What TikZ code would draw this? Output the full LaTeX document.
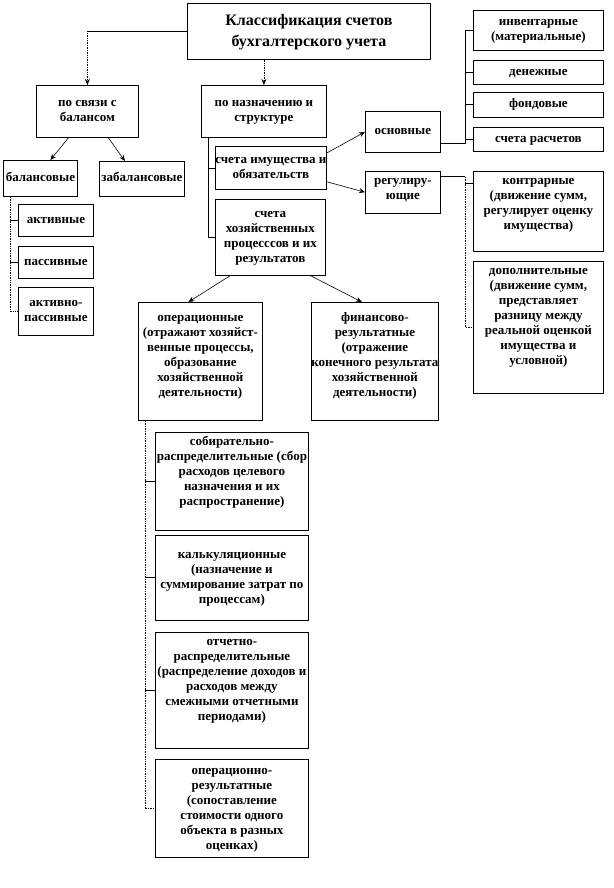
\documentclass[tikz,border=0pt]{standalone}
\usepackage{fontspec}
\setmainfont{Liberation Serif}
\usepackage{tikz}
\usetikzlibrary{arrows.meta, positioning}

% box text: [c] centred or [t] top, width, height, lines
\newcommand{\bx}[4][c]{\parbox[c][#3][#1]{#2}{\centering\vspace*{3pt}\makebox[0pt]{\begin{tabular}{@{}c@{}}#4\end{tabular}}\par\vspace*{3pt}}}

\begin{document}
\begin{tikzpicture}[
    x=1pt, y=-1pt,
    font=\bfseries\fontsize{13}{15}\selectfont,
    acct/.style={draw, line width=0.8pt, inner sep=0pt, fill=white},
    line/.style={line width=0.7pt},
    trunk/.style={line width=0.7pt, densely dotted},
    arrow/.style={-{Stealth[length=6pt, width=5pt]}, line width=0.6pt}
]
\useasboundingbox (0,0) rectangle (613,888);

% Title
\node[acct, anchor=north west, font=\bfseries\fontsize{16}{21}\selectfont] (title) at (187,3) {\bx{243pt}{56pt}{Классификация счетов\\бухгалтерского учета}};

% First level
\node[acct, anchor=north west] (svyaz) at (36,85) {\bx{102pt}{52pt}{по связи с\\балансом}};
\node[acct, anchor=north west] (naznach) at (201,85) {\bx{125pt}{52pt}{по назначению и\\структуре}};

% By relation to balance
\node[acct, anchor=north west] (balans) at (3,160) {\bx{74pt}{36pt}{балансовые}};
\node[acct, anchor=north west] (zabalans) at (99,161) {\bx{85pt}{35pt}{забалансовые}};
\node[acct, anchor=north west] (aktiv) at (18,204) {\bx{75pt}{32pt}{активные}};
\node[acct, below=9pt of aktiv] (passiv) {\bx{75pt}{32pt}{пассивные}};
\node[acct, below=8pt of passiv] (aktpass) {\bx{75pt}{48pt}{активно-\\пассивные}};

% By purpose and structure
\node[acct, anchor=north west] (imush) at (215,146) {\bx{111pt}{43pt}{счета имущества и\\обязательств}};
\node[acct, anchor=north west] (hozproc) at (215,199) {\bx{110pt}{76pt}{счета\\хозяйственных\\процесссов и их\\результатов}};

% Property accounts
\node[acct, anchor=north west] (osnov) at (365,111) {\bx{75pt}{41pt}{основные}};
\node[acct, below=18pt of osnov] (regul) {\bx[t]{75pt}{42pt}{регулиру-\\ющие}};

\node[acct, anchor=north west] (inv) at (473,10) {\bx{130pt}{40pt}{инвентарные\\(материальные)}};
\node[acct, below=9pt of inv] (den) {\bx{130pt}{24pt}{денежные}};
\node[acct, below=7pt of den] (fond) {\bx{130pt}{25pt}{фондовые}};
\node[acct, below=10pt of fond] (rasch) {\bx{130pt}{24pt}{счета расчетов}};

\node[acct, anchor=north west] (kontr) at (473,171) {\bx[t]{130pt}{80pt}{контрарные\\(движение сумм,\\регулирует оценку\\имущества)}};
\node[acct, below=9pt of kontr] (dop) {\bx[t]{130pt}{132pt}{дополнительные\\(движение сумм,\\представляет\\разницу между\\реальной оценкой\\имущества и\\условной)}};

% Process accounts
\node[acct, anchor=north west] (oper) at (138,302) {\bx[t]{124pt}{118pt}{\rule{0pt}{16pt}операционные\\(отражают хозяйст-\\венные процессы,\\образование\\хозяйственной\\деятельности)}};
\node[acct, anchor=north west] (fin) at (311,302) {\bx[t]{127pt}{118pt}{\rule{0pt}{16pt}финансово-\\результатные\\(отражение\\конечного результата\\хозяйственной\\деятельности)}};

\node[acct, anchor=north west] (sobir) at (155,432) {\bx[t]{153pt}{98pt}{собирательно-\\распределительные (сбор\\расходов целевого\\назначения и их\\распространение)}};
\node[acct, below=4pt of sobir] (kalk) {\bx{153pt}{85pt}{калькуляционные\\(назначение и\\суммирование затрат по\\процессам)}};
\node[acct, below=11pt of kalk] (otchet) {\bx[t]{153pt}{116pt}{отчетно-\\распределительные\\(распределение доходов и\\расходов между\\смежными отчетными\\периодами)}};
\node[acct, below=11pt of otchet] (operres) {\bx{153pt}{98pt}{операционно-\\результатные\\(сопоставление\\стоимости одного\\объекта в разных\\оценках)}};

% Title -> first level
\draw[line] (title.west) -- (svyaz.north |- title.west);
\draw[arrow, trunk] (svyaz.north |- title.west) -- (svyaz.north);
\draw[arrow, trunk] (naznach.north |- title.south) -- (naznach.north);

% Balance branch
\draw[arrow] ([xshift=-19pt]svyaz.south) -- ([xshift=10pt]balans.north);
\draw[arrow] ([xshift=21pt]svyaz.south) -- ([xshift=-17pt]zabalans.north);
\coordinate (btrunk) at ([xshift=7pt]balans.south west);
\draw[trunk] (btrunk) |- (aktpass.west);
\draw[line] (btrunk |- aktiv.west) -- (aktiv.west);
\draw[line] (btrunk |- passiv.west) -- (passiv.west);

% Purpose branch
\coordinate (ntrunk) at ([xshift=7pt]naznach.south west);
\draw[line] (ntrunk) |- (hozproc.west);
\draw[line] (ntrunk |- imush.west) -- (imush.west);

\draw[arrow] ([yshift=-7pt]imush.north east) -- (osnov.west);
\draw[arrow] ([yshift=8pt]imush.south east) -- (regul.west);

% Main accounts tree
\coordinate (otrunk) at ([xshift=-8pt]inv.west);
\draw[line] ([yshift=9pt]osnov.south east) -| (otrunk) -- (inv.west);
\foreach \n in {den, fond, rasch}
    \draw[line] (otrunk |- \n.west) -- (\n.west);

% Regulating accounts tree
\coordinate (rstart) at ([yshift=-6pt]regul.north east);
\coordinate (rtrunk) at ([xshift=-8pt]dop.west);
\coordinate (ktick) at ([yshift=-12pt]kontr.north west);
\draw[line] (rstart) -- (rtrunk |- rstart);
\draw[trunk] (rtrunk |- rstart) -- (rtrunk) -- (dop.west);
\draw[line] (rtrunk |- ktick) -- (ktick);

% Process accounts
\draw[arrow] ([xshift=15pt]hozproc.south west) -- ([xshift=-12pt]oper.north);
\draw[arrow] ([xshift=-15pt]hozproc.south east) -- ([xshift=-13pt]fin.north);

\coordinate (optrunk) at ([xshift=7pt]oper.south west);
\draw[trunk] (optrunk) |- (operres.west);
\foreach \n in {sobir, kalk, otchet}
    \draw[line] (optrunk |- \n.west) -- (\n.west);

\end{tikzpicture}
\end{document}
